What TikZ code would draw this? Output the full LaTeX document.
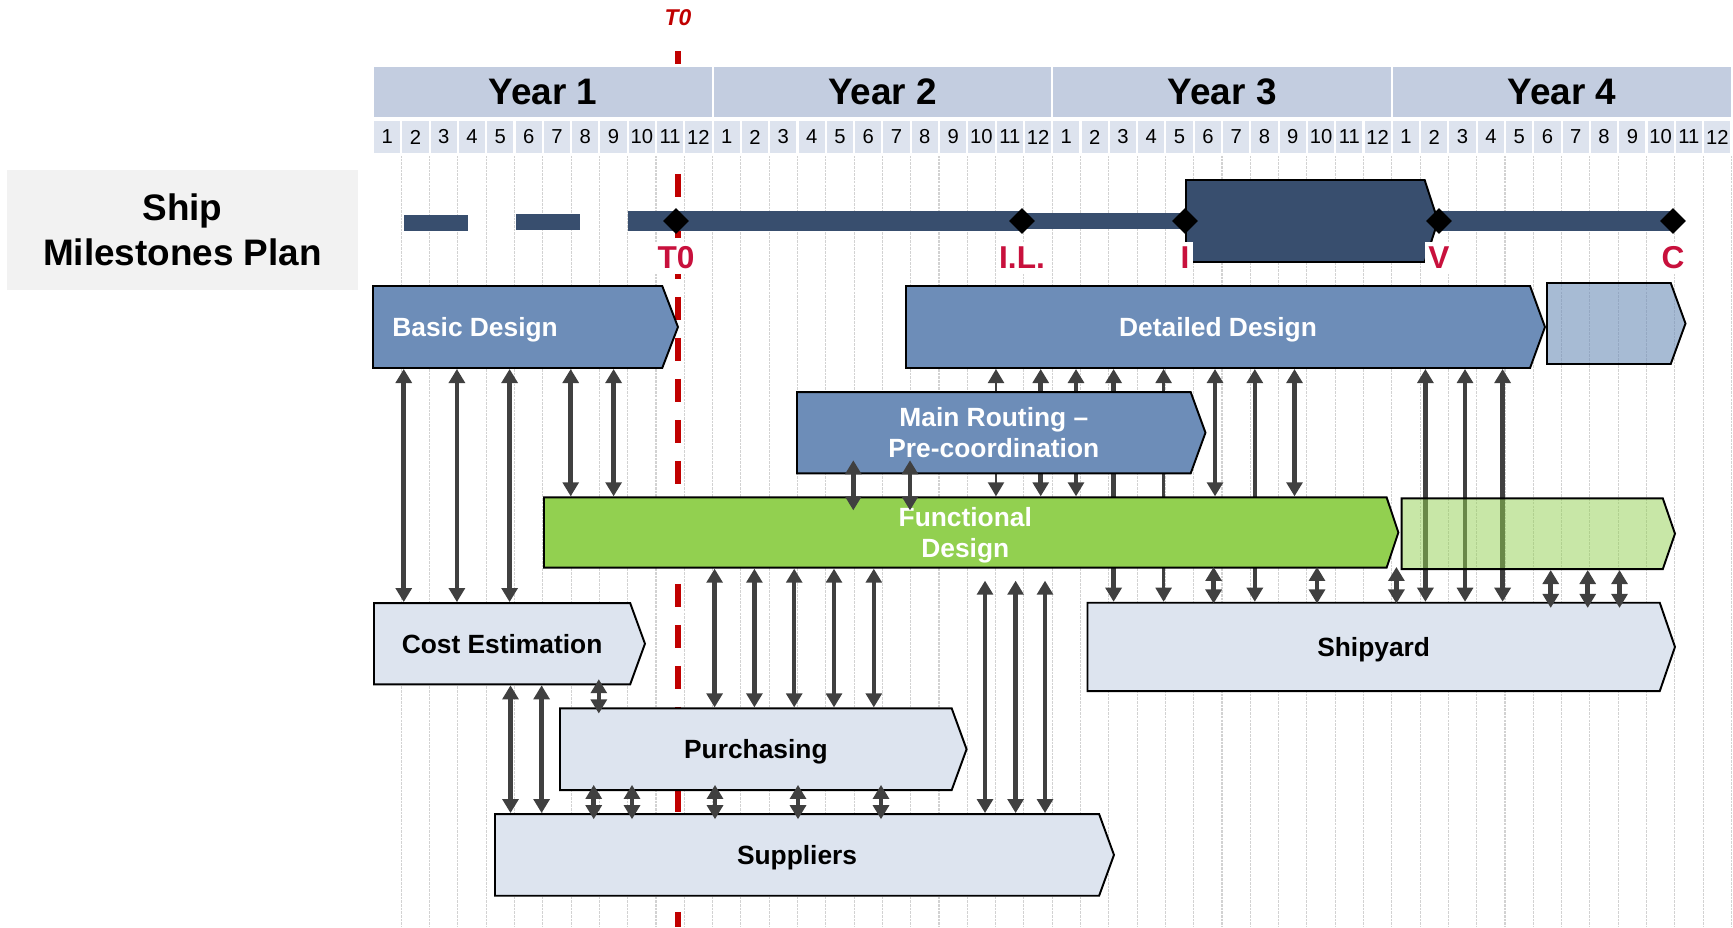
\documentclass[tikz,border=0pt]{standalone}
\usepackage{fontspec}
\setmainfont{Liberation Sans}
\usetikzlibrary{calc, positioning, shapes, arrows.meta}
\definecolor{yearfill}{HTML}{C3CDE0}
\definecolor{monthfill}{HTML}{DDE3EE}
\definecolor{barblue}{HTML}{384E6E}
\definecolor{phaseblue}{HTML}{6D8DB8}
\definecolor{phasegreen}{HTML}{92D050}
\definecolor{phaselight}{HTML}{DDE4EF}
\definecolor{planbg}{HTML}{F2F2F2}
\definecolor{msred}{HTML}{C8103C}
\definecolor{tzero}{HTML}{C00000}
\definecolor{linkgray}{HTML}{404040}
\def\pix{0.02cm}
\pgfdeclarelayer{back}
\pgfsetlayers{back,main}
\tikzstyle{year cell}=[fill=yearfill, draw=white, line width=1.2pt, minimum width=339.7*\pix, minimum height=53*\pix, inner sep=0pt, font=\bfseries\fontsize{21}{24}\selectfont]
\tikzstyle{month cell}=[fill=monthfill, draw=white, line width=1.2pt, minimum width=28.3*\pix, minimum height=35*\pix, inner sep=0pt, font=\fontsize{11.5}{13}\selectfont]
\tikzstyle{phase}=[signal, signal to=east, signal pointer angle=140, draw=black, line width=1.1pt, inner sep=0pt, text depth=0pt, anchor=west, align=center, font=\bfseries\fontsize{15}{17.6}\selectfont]
\tikzstyle{blue phase}=[phase, fill=phaseblue, text=white]
\tikzstyle{green phase}=[phase, fill=phasegreen, text=white]
\tikzstyle{grey phase}=[phase, fill=phaselight]
\tikzstyle{milestone}=[diamond, fill=black, minimum width=26*\pix, minimum height=26*\pix, inner sep=0pt]
\tikzstyle{ms label}=[fill=white, text=msred, inner xsep=2pt, inner ysep=3pt, font=\bfseries\fontsize{18}{20}\selectfont]
\tikzstyle{link}=[<->, >={Triangle[length=8pt,width=9pt]}, draw=linkgray, line width=2.6pt]
\tikzstyle{thin link}=[link, line width=1.6pt]
\tikzstyle{short link}=[link, shorten <=-3.5pt, shorten >=-3.5pt]
\tikzstyle{grid line}=[gray!35, line width=0.6pt, dash pattern=on 1.5pt off 0.6pt]

\begin{document}
\begin{tikzpicture}[x=\pix, y=-\pix]
	\useasboundingbox (0,0) rectangle (1733,927);

	% Time line header
	\node[text=tzero, font=\bfseries\itshape\fontsize{13}{15}\selectfont] (T0-top) at (678,18) {T0};
	\foreach \y in {1,...,4}
	\node[year cell] (Y-\y) at ({373+(\y-0.5)*339.7}, 92) {Year \y};
	\foreach \y in {0,...,3}
	\foreach \m in {1,...,12}
	\node[month cell] (M-\y-\m) at ({373+(12*\y+\m-0.5)*28.3}, 137) {\m};

	% Milestones row
	\node[fill=planbg, minimum width=351*\pix, minimum height=120*\pix, align=center, font=\bfseries\fontsize{21}{25.6}\selectfont] (plan) at (182.5,230) {Ship\\Milestones Plan};
	\fill[barblue] (404,215) rectangle (468,231);
	\fill[barblue] (516,214) rectangle (580,230);
	\fill[barblue] (628,211) rectangle (1022,231);
	\fill[barblue] (1022,213) rectangle (1185,229);
	\fill[barblue] (1437,211) rectangle (1673,231);
	\node[phase, fill=barblue, signal pointer angle=144, minimum width=252*\pix, minimum height=82*\pix] (install) at (1185,221) {};
	\foreach \name/\x/\txt in {T0/676/T0, IL/1022/I.L., I/1185/I, V/1439/V, C/1673/C} {
		\node[milestone] (MS-\name) at (\x,221) {};
		\node[ms label] (ML-\name) at (\x,258) {\txt};
	}

	% Phases
	\node[blue phase, signal pointer angle=138, minimum width=305*\pix, minimum height=82*\pix] (BD) at (372,327) {};
	\node[anchor=west, inner sep=0pt, text depth=0pt, text=white, font=\bfseries\fontsize{15}{17.6}\selectfont] (BD-text) at ([xshift=20*\pix]BD.west) {Basic Design};
	\node[blue phase, minimum width=639*\pix, minimum height=82*\pix] (DD) at (905,327) {Detailed Design};
	\node[phase, fill=phaseblue, fill opacity=0.6, minimum width=138.5*\pix, minimum height=81*\pix] (DDx) at (1546,323.5) {};
	\node[blue phase, minimum width=408.5*\pix, minimum height=81.3*\pix] (MR) at (796,432.7) {Main Routing --\\Pre-coordination};
	\node[green phase, signal pointer angle=143, minimum width=854.4*\pix, minimum height=70.4*\pix] (FD) at (543,532.5) {Functional\\Design};
	\node[phase, fill=phasegreen, fill opacity=0.5, signal pointer angle=142, minimum width=273.3*\pix, minimum height=70.7*\pix] (FDx) at (1400.7,533.7) {};
	\node[grey phase, minimum width=271*\pix, minimum height=81.3*\pix] (CE) at (373,643.7) {Cost Estimation};
	\node[grey phase, minimum width=406.6*\pix, minimum height=81.7*\pix] (PU) at (559,749.2) {Purchasing};
	\node[grey phase, minimum width=619*\pix, minimum height=81.7*\pix] (SU) at (494,854.9) {Suppliers};
	\node[grey phase, signal pointer angle=142, minimum width=587.5*\pix, minimum height=88.3*\pix] (SY) at (1086.5,646.9) {Shipyard};

	\begin{pgfonlayer}{back}
		% Month grid
		\foreach \m in {1,...,48}
		\draw[grid line] ({373+\m*28.3},155) -- ({373+\m*28.3},927);

		% T0 line
		\draw[tzero, line width=3.1pt, dash pattern=on 0.46cm off 0.36cm] (678,51) -- (678,927);

		% Long links, partly hidden by the phases
		\foreach \x in {403.75, 456.9, 509.6}
		\draw[link] (BD.south -| \x,0) -- (CE.north -| \x,0);
		\foreach \x in {570.7, 613.6}
		\draw[link] (BD.south -| \x,0) -- (FD.north -| \x,0);
		\foreach \x in {1040.7, 1076, 1215, 1294.5}
		\draw[link] (DD.south -| \x,0) -- (FD.north -| \x,0);
		\draw[thin link] (DD.south -| 996,0) -- (FD.north -| 996,0);
		\foreach \x in {1113.6, 1254.8, 1425.4, 1465, 1502.6}
		\draw[link] (DD.south -| \x,0) -- (SY.north -| \x,0);
		\draw[thin link] (DD.south -| 1163.6,0) -- (SY.north -| 1163.6,0);
		\foreach \x in {714.6, 754.4, 794.2, 834, 873.8}
		\draw[link] (FD.south -| \x,0) -- (PU.north -| \x,0);
		\foreach \x in {985, 1015.6, 1045}
		\draw[link, shorten <=6.8pt] (FD.south -| \x,0) -- (SU.north -| \x,0);
		\foreach \x in {510.5, 541.6}
		\draw[link] (CE.south -| \x,0) -- (SU.north -| \x,0);
	\end{pgfonlayer}

	% Short links over the phases
	\foreach \x in {853.3, 910}
	\draw[link, shorten <=-8pt, shorten >=-8pt] (MR.south -| \x,0) -- (FD.north -| \x,0);
	\foreach \x in {1213.6, 1317, 1396.4}
	\draw[short link, shorten <=-1pt, shorten >=-1pt] (FD.south -| \x,0) -- (SY.north -| \x,0);
	\foreach \x in {1550.7, 1587.7, 1619.5}
	\draw[short link, shorten <=0pt] (FDx.south -| \x,0) -- (SY.north -| \x,0);
	\draw[short link] (CE.south -| 598.8,0) -- (PU.north -| 598.8,0);
	\foreach \x in {593.7, 632, 715, 798, 881}
	\draw[short link] (PU.south -| \x,0) -- (SU.north -| \x,0);
\end{tikzpicture}
\end{document}
